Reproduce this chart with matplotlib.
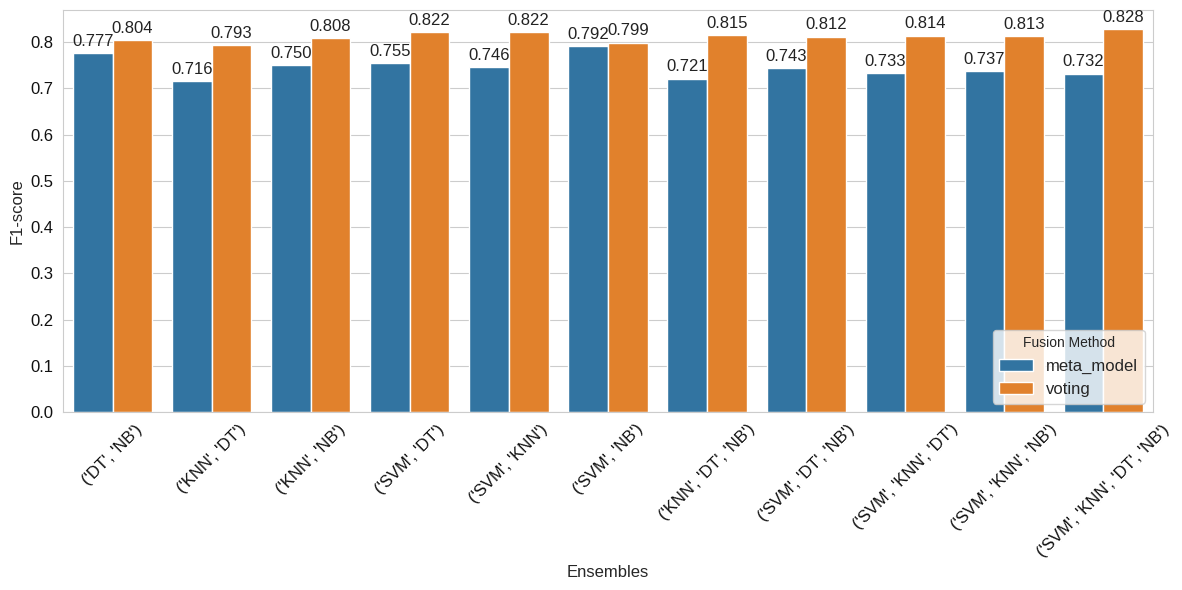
import matplotlib
matplotlib.use("Agg")
import matplotlib.pyplot as plt
import seaborn as sns
import pandas as pd

ensembles = ["('DT', 'NB')", "('KNN', 'DT')", "('KNN', 'NB')", "('SVM', 'DT')",
             "('SVM', 'KNN')", "('SVM', 'NB')", "('KNN', 'DT', 'NB')",
             "('SVM', 'DT', 'NB')", "('SVM', 'KNN', 'DT')", "('SVM', 'KNN', 'NB')",
             "('SVM', 'KNN', 'DT', 'NB')"]
meta_model = [0.777, 0.716, 0.750, 0.755, 0.746, 0.792, 0.721, 0.743, 0.733, 0.737, 0.732]
voting = [0.804, 0.793, 0.808, 0.822, 0.822, 0.799, 0.815, 0.812, 0.814, 0.813, 0.828]
methods = ["meta_model", "voting"]

df = pd.DataFrame({
    "Ensembles": ensembles * 2,
    "F1-score": meta_model + voting,
    "Fusion Method": [methods[0]] * len(ensembles) + [methods[1]] * len(ensembles),
})

sns.set_style("whitegrid")
plt.rcParams['font.family'] = ['Liberation Sans', 'DejaVu Sans']
fig, ax = plt.subplots(figsize=(11.82, 5.9), dpi=100)
sns.barplot(data=df, x="Ensembles", y="F1-score", hue="Fusion Method", ax=ax)
for c in ax.containers:
    ax.bar_label(c, fmt="%.3f", fontsize=12, padding=3, color="#222222")
ax.set_xlabel("Ensembles", fontsize=12)
ax.set_ylabel("F1-score", fontsize=12)
plt.xticks(rotation=45, fontsize=12)
plt.yticks(fontsize=12)
ax.tick_params(colors="#111111")
ax.legend(title="Fusion Method", loc="lower right", fontsize=12, title_fontsize=10)
fig.subplots_adjust(left=63/1182, right=1153/1182, top=1-10/590, bottom=1-412/590)
plt.savefig("out.png", dpi=100)
